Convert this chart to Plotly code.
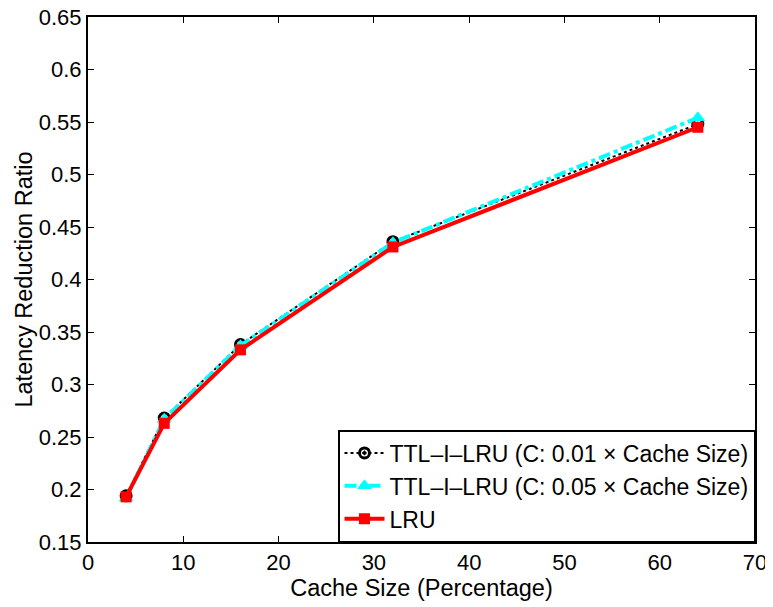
import plotly.graph_objects as go

cache_size = [4, 8, 16, 32, 64]
ttl_001 = [0.194, 0.268, 0.338, 0.436, 0.548]
ttl_005 = [0.192, 0.267, 0.337, 0.435, 0.554]
lru = [0.193, 0.263, 0.333, 0.431, 0.545]

names = ["TTL\u2013I\u2013LRU (C: 0.01 \u00d7 Cache Size)",
         "TTL\u2013I\u2013LRU (C: 0.05 \u00d7 Cache Size)",
         "LRU"]

fig = go.Figure()
fig.add_trace(go.Scatter(x=cache_size, y=ttl_001, name=names[0], mode="lines+markers",
                         line=dict(color="black", width=2, dash="dot"),
                         marker=dict(symbol="circle-open-dot", size=10, color="black", line=dict(width=3))))
fig.add_trace(go.Scatter(x=cache_size, y=ttl_005, name=names[1], mode="lines+markers",
                         line=dict(color="cyan", width=4, dash="dashdot"),
                         marker=dict(symbol="triangle-up", size=13, color="cyan")))
fig.add_trace(go.Scatter(x=cache_size, y=lru, name=names[2], mode="lines+markers",
                         line=dict(color="red", width=4),
                         marker=dict(symbol="square", size=11, color="red")))

axis_common = dict(showline=True, linecolor="black", linewidth=2, mirror="ticks",
                   ticks="inside", ticklen=6, tickcolor="black", showgrid=False, zeroline=False,
                   automargin=False, ticklabeloverflow="allow",
                   tickfont=dict(size=22, color="black"))

fig.update_layout(
    width=765, height=599,
    margin=dict(l=80, r=18, t=9, b=65),
    paper_bgcolor="white", plot_bgcolor="white",
    font=dict(family="Liberation Sans, Arial", color="black", size=22),
    xaxis=dict(range=[0, 70], dtick=10, title=dict(text="Cache Size (Percentage)", standoff=0,
                                                   font=dict(size=23.5)), **axis_common),
    yaxis=dict(range=[0.15, 0.65], dtick=0.05, tickformat="~g",
               title=dict(text="Latency Reduction Ratio", standoff=0, font=dict(size=23.5)), **axis_common),
    legend=dict(x=1, y=0, xanchor="right", yanchor="bottom",
                bgcolor="white", bordercolor="black", borderwidth=1.5,
                font=dict(size=23), tracegroupgap=0, itemwidth=40),
    showlegend=True,
)

fig.write_html("out.html")
